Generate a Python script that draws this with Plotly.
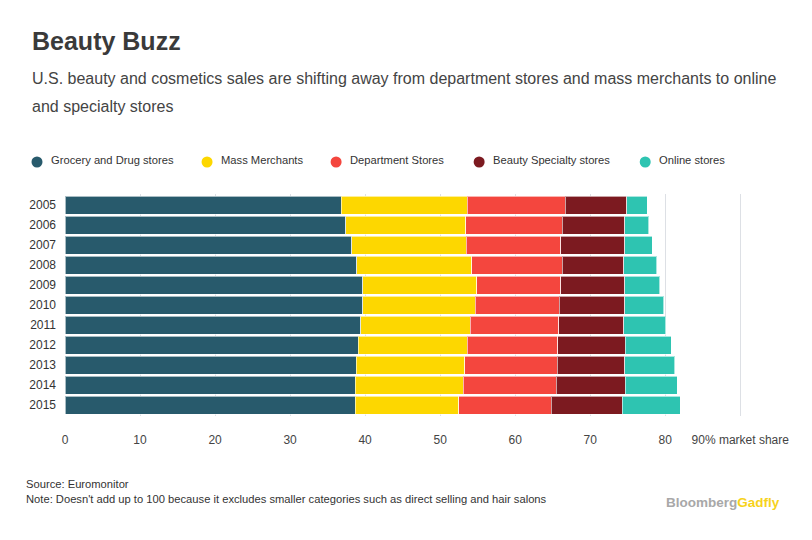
import plotly.graph_objects as go

years = ["2005", "2006", "2007", "2008", "2009", "2010", "2011", "2012", "2013", "2014", "2015"]
series_names = ["Grocery and Drug stores", "Mass Merchants", "Department Stores",
                "Beauty Specialty stores", "Online stores"]
grocery = [36.8, 37.4, 38.2, 38.9, 39.7, 39.7, 39.4, 39.1, 38.8, 38.7, 38.7]
mass = [16.8, 16.0, 15.3, 15.3, 15.2, 15.0, 14.6, 14.5, 14.5, 14.4, 13.8]
department = [13.1, 12.9, 12.6, 12.1, 11.2, 11.2, 11.8, 12.1, 12.3, 12.4, 12.3]
beauty = [8.2, 8.3, 8.5, 8.2, 8.5, 8.7, 8.7, 9.0, 9.0, 9.2, 9.5]
online = [2.7, 3.2, 3.7, 4.4, 4.7, 5.2, 5.6, 6.1, 6.7, 6.9, 7.7]
x_tickvals = [0, 10, 20, 30, 40, 50, 60, 70, 80, 90]
x_ticktext = ["0", "10", "20", "30", "40", "50", "60", "70", "80", "90% market share"]

colors = ["#285a6c", "#fdd700", "#f4463e", "#7c1a20", "#2ec4b1"]
series_values = [grocery, mass, department, beauty, online]

FONT = "Liberation Sans, Arial, sans-serif"

fig = go.Figure()
for name, vals, col in zip(series_names, series_values, colors):
    fig.add_trace(go.Bar(
        y=years, x=vals, name=name, orientation="h",
        marker=dict(color=col, line=dict(color="rgba(255,255,255,0.6)", width=1)),
        showlegend=False,
    ))

W, H = 812, 540
XMAX = 90.5
ml, mt, mb = 65, 194, 124
pw = 675 * XMAX / 90
mr = W - ml - pw
ph = H - mt - mb

def px_to_paper_x(px):
    return (px - ml) / pw

def py_to_paper_y(py):
    return (H - mb - py) / ph

annotations = []
shapes = []
legend_x = [37, 207, 336, 479, 645]
for name, col, lx in zip(series_names, colors, legend_x):
    r = 5.5
    shapes.append(dict(type="circle", xref="paper", yref="paper",
                       x0=px_to_paper_x(lx - r), x1=px_to_paper_x(lx + r),
                       y0=py_to_paper_y(162 + r), y1=py_to_paper_y(162 - r),
                       fillcolor=col, line=dict(width=0)))
    annotations.append(dict(text=name, xref="paper", yref="paper",
                            x=px_to_paper_x(lx + 12), y=py_to_paper_y(160),
                            xanchor="left", yanchor="middle", showarrow=False,
                            font=dict(family=FONT, size=11.2, color="#333333")))

annotations += [
    dict(text="<b>Beauty Buzz</b>", xref="paper", yref="paper",
         x=px_to_paper_x(30), y=py_to_paper_y(41), xanchor="left", yanchor="middle",
         showarrow=False, font=dict(family=FONT, size=25, color="#3a3a3a")),
    dict(text="U.S. beauty and cosmetics sales are shifting away from department stores and mass merchants to online",
         xref="paper", yref="paper", x=px_to_paper_x(30), y=py_to_paper_y(78),
         xanchor="left", yanchor="middle", showarrow=False,
         font=dict(family=FONT, size=16, color="#444444")),
    dict(text="and specialty stores",
         xref="paper", yref="paper", x=px_to_paper_x(30), y=py_to_paper_y(106),
         xanchor="left", yanchor="middle", showarrow=False,
         font=dict(family=FONT, size=16, color="#444444")),
    dict(text="Source: Euromonitor", xref="paper", yref="paper",
         x=px_to_paper_x(24), y=py_to_paper_y(484), xanchor="left", yanchor="middle",
         showarrow=False, font=dict(family=FONT, size=11.2, color="#333333")),
    dict(text="Note: Doesn't add up to 100 because it excludes smaller categories such as direct selling and hair salons",
         xref="paper", yref="paper", x=px_to_paper_x(24), y=py_to_paper_y(499),
         xanchor="left", yanchor="middle", showarrow=False,
         font=dict(family=FONT, size=11.2, color="#333333")),
    dict(text="<b><span style='color:#a8a8a8'>Bloomberg</span><span style='color:#f7d21b'>Gadfly</span></b>",
         xref="paper", yref="paper", x=px_to_paper_x(782), y=py_to_paper_y(502),
         xanchor="right", yanchor="middle", showarrow=False,
         font=dict(family=FONT, size=13.5)),
]

fig.update_layout(
    width=W, height=H,
    margin=dict(l=ml, r=mr, t=mt, b=mb, autoexpand=False),
    barmode="stack", bargap=0.1,
    plot_bgcolor="white", paper_bgcolor="white",
    shapes=shapes, annotations=annotations,
    showlegend=False,
    xaxis=dict(range=[0, XMAX], tickvals=x_tickvals, ticktext=x_ticktext,
               showgrid=True, gridcolor="#dde0e5", gridwidth=1, zeroline=False,
               showline=False, ticks="", ticklabelstandoff=15,
               tickfont=dict(family=FONT, size=12, color="#444444"), fixedrange=True),
    yaxis=dict(type="category", range=[10.55, -0.55], showgrid=False, zeroline=False,
               showline=False, ticks="", ticklabelstandoff=8,
               tickfont=dict(family=FONT, size=12, color="#333333"), fixedrange=True),
)

fig.write_html("out.html")
